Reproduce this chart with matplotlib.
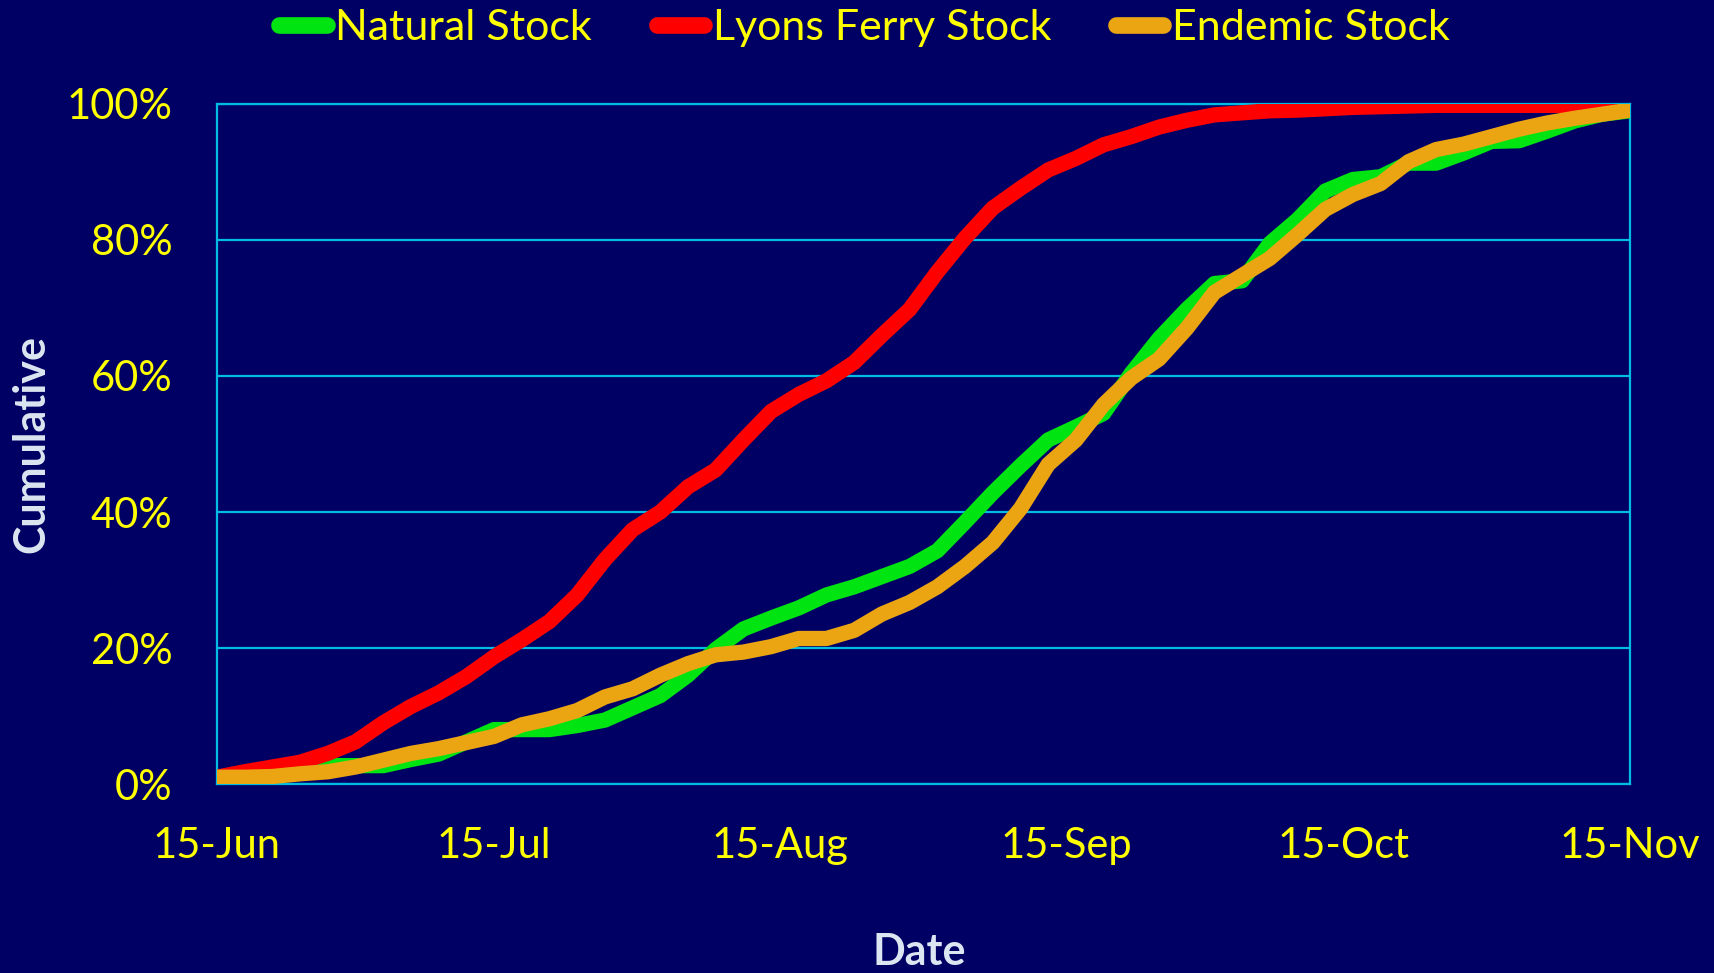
import datetime as dt
import matplotlib
matplotlib.use("Agg")
import matplotlib.pyplot as plt
import matplotlib.dates as mdates
from matplotlib.ticker import FixedLocator, FuncFormatter
from matplotlib.lines import Line2D

# ---- data (cumulative %, sampled every 3 days from 15-Jun) ----
start_date = dt.date(2000, 6, 15)
end_date = dt.date(2000, 11, 15)
day_offsets = list(range(0, 154, 3))

natural_stock = [1.0, 1.0, 1.2, 1.8, 2.7, 2.7, 2.7, 3.6, 4.4, 6.2,
                 8.0, 8.0, 8.0, 8.6, 9.4, 11.2, 13.0, 16.0, 19.8, 22.8,
                 24.4, 25.9, 27.8, 29.0, 30.5, 32.0, 34.3, 38.5, 42.8, 46.8,
                 50.6, 52.5, 54.5, 60.4, 65.5, 69.8, 73.6, 74.0, 79.5, 83.0,
                 87.2, 88.9, 89.3, 91.3, 91.3, 92.8, 94.5, 94.6, 96.0, 97.5,
                 98.5, 99.0]
lyons_ferry_stock = [1.0, 1.8, 2.5, 3.2, 4.5, 6.2, 9.0, 11.4, 13.4, 15.8,
                     18.7, 21.2, 23.9, 27.8, 33.0, 37.4, 40.0, 43.7, 46.2, 50.6,
                     54.8, 57.3, 59.3, 62.0, 66.0, 69.8, 75.3, 80.3, 84.7, 87.6,
                     90.3, 92.0, 94.0, 95.2, 96.6, 97.6, 98.4, 98.7, 99.0, 99.1,
                     99.3, 99.5, 99.6, 99.7, 99.8, 99.8, 99.8, 99.8, 99.8, 99.8,
                     99.8, 99.8]
endemic_stock = [1.0, 1.0, 1.1, 1.5, 1.8, 2.5, 3.5, 4.5, 5.2, 6.1,
                 7.0, 8.7, 9.6, 10.8, 12.8, 14.0, 16.0, 17.7, 19.0, 19.4,
                 20.2, 21.4, 21.4, 22.6, 25.0, 26.7, 29.0, 32.0, 35.5, 40.5,
                 47.0, 50.6, 55.8, 59.7, 62.5, 67.0, 72.3, 74.8, 77.3, 80.8,
                 84.5, 86.7, 88.3, 91.5, 93.3, 94.1, 95.2, 96.3, 97.2, 97.9,
                 98.5, 99.1]

series_names = ["Natural Stock", "Lyons Ferry Stock", "Endemic Stock"]
series_colors = ["#00E412", "#FF0000", "#EBA513"]
x_tick_dates = [dt.date(2000, 6, 15), dt.date(2000, 7, 15), dt.date(2000, 8, 15),
                dt.date(2000, 9, 15), dt.date(2000, 10, 15), dt.date(2000, 11, 15)]
y_ticks = [0, 20, 40, 60, 80, 100]

# ---- style ----
BG = "#000064"
GRID = "#00BCE4"
YELLOW = "#FFFF00"
LABEL = "#DCE6F2"
FONT = "Lato"
plt.rcParams["font.family"] = [FONT, "DejaVu Sans"]

fig = plt.figure(figsize=(17.15, 9.73), dpi=100, facecolor=BG)
ax = fig.add_axes([217 / 1715, 1 - 784 / 973, (1630 - 217) / 1715, (784 - 104) / 973])
ax.set_facecolor(BG)

dates = [start_date + dt.timedelta(days=d) for d in day_offsets]
LW = 11
for name, vals, col in zip(series_names, [natural_stock, lyons_ferry_stock, endemic_stock], series_colors):
    ax.plot(dates, vals, color=col, lw=LW, solid_capstyle="round",
            solid_joinstyle="round", zorder=3, label=name)

ax.set_xlim(start_date, end_date)
ax.set_ylim(0, 100)
ax.xaxis.set_major_locator(FixedLocator(mdates.date2num(x_tick_dates)))
ax.xaxis.set_major_formatter(mdates.DateFormatter("%d-%b"))
ax.set_yticks(y_ticks)
ax.yaxis.set_major_formatter(FuncFormatter(lambda v, p: f"{v:.0f}%"))
ax.tick_params(axis="both", length=0, colors=YELLOW, labelsize=30)
ax.tick_params(axis="y", pad=32)
ax.tick_params(axis="x", pad=31)
for lab in ax.get_xticklabels() + ax.get_yticklabels():
    lab.set_color(YELLOW)

ax.grid(axis="y", color=GRID, lw=1.6, zorder=1)
ax.grid(axis="x", visible=False)
for sp in ax.spines.values():
    sp.set_color(GRID)
    sp.set_linewidth(1.6)
    sp.set_zorder(1)

fig.text(31 / 1715, 1 - 444 / 973, "Cumulative", rotation=90, fontsize=31,
         fontweight="bold", color=LABEL, ha="center", va="center")
fig.text(919 / 1715, 1 - 952 / 973, "Date", fontsize=31, fontweight="bold",
         color=LABEL, ha="center", va="center")

handles = [Line2D([0], [0], color=c, lw=12, solid_capstyle="round") for c in series_colors]
fig.legend(handles, series_names, loc="center", bbox_to_anchor=(0.504, 1 - 28 / 973),
           ncol=3, frameon=False, fontsize=31, handlelength=1.1, handletextpad=0.2,
           columnspacing=1.5, labelcolor=YELLOW, borderaxespad=0, borderpad=0)

fig.savefig("out.png", dpi=100, facecolor=BG)
